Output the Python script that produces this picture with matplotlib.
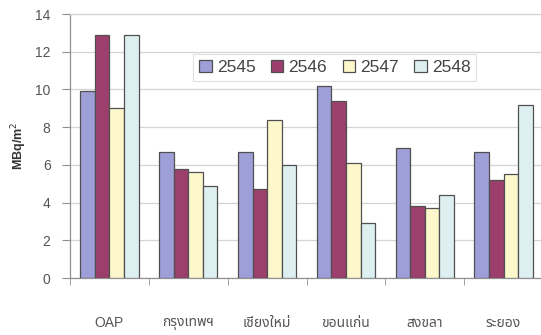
import matplotlib
matplotlib.use("Agg")
import matplotlib.pyplot as plt
import numpy as np

plt.rcParams['font.family'] = ['Liberation Sans', 'Noto Sans Thai', 'DejaVu Sans']

categories = ['OAP', 'กรุงเทพฯ', 'เชียงใหม่', 'ขอนแก่น', 'สงขลา', 'ระยอง']
years = ['2545', '2546', '2547', '2548']
v2545 = [9.9, 6.7, 6.7, 10.2, 6.9, 6.7]
v2546 = [12.9, 5.8, 4.7, 9.4, 3.8, 5.2]
v2547 = [9.0, 5.6, 8.4, 6.1, 3.7, 5.5]
v2548 = [12.9, 4.9, 6.0, 2.9, 4.4, 9.2]
yticks = [0, 2, 4, 6, 8, 10, 12, 14]

series = [v2545, v2546, v2547, v2548]
colors = ['#9E9ED8', '#9C3F6C', '#FDF8CC', '#DDEFF0']
edge = '#505050'
grey_text = '#555555'

fig = plt.figure(figsize=(5.41, 3.35), dpi=100)
ax = fig.add_axes([0.1294, 0.170, 0.8743, 0.788])

x = np.arange(len(categories))
w = 0.185
for k, (vals, col, yr) in enumerate(zip(series, colors, years)):
    ax.bar(x + (k - 1.5) * w, vals, width=w, color=col, edgecolor=edge,
           linewidth=0.9, label=yr, zorder=3)

ax.set_xlim(-0.5, len(categories) - 0.5)
ax.set_ylim(0, 14)
ax.set_yticks(yticks)
ax.set_yticklabels([str(t) for t in yticks], fontsize=10, color=grey_text)
ax.yaxis.grid(True, color='#D4D4D4', linewidth=0.9, zorder=0)

# category labels sit between the boundary tick marks
ax.set_xticks(x)
ax.set_xticklabels(categories, fontsize=10, color=grey_text)
ax.tick_params(axis='x', which='major', length=0, pad=27)
ax.set_xticks(np.arange(-0.5, len(categories), 1.0), minor=True)
ax.tick_params(axis='x', which='minor', length=5, direction='out', color='#909090')
ax.tick_params(axis='y', length=6, direction='out', color='#909090', pad=8)

for side in ['left', 'bottom']:
    ax.spines[side].set_color('#909090')
    ax.spines[side].set_linewidth(0.9)
ax.spines['top'].set_color('#D4D4D4')
ax.spines['top'].set_linewidth(0.9)
ax.spines['right'].set_visible(False)

fig.text(0.035, 0.565, 'MBq/m$^2$', rotation=90, ha='center', va='center',
         fontsize=9, fontweight='bold', color='#333333')

leg = ax.legend(loc='center', bbox_to_anchor=(0.619, 0.7985),
                bbox_transform=fig.transFigure, ncol=4, fontsize=12.5,
                handlelength=0.7, handleheight=0.7, handletextpad=0.3,
                columnspacing=0.9, borderpad=0.35, frameon=True,
                fancybox=False, framealpha=1)
leg.get_frame().set_edgecolor('#E0E0E0')
leg.get_frame().set_linewidth(0.8)
for t in leg.get_texts():
    t.set_color('#444444')

fig.savefig('out.png', dpi=100)
